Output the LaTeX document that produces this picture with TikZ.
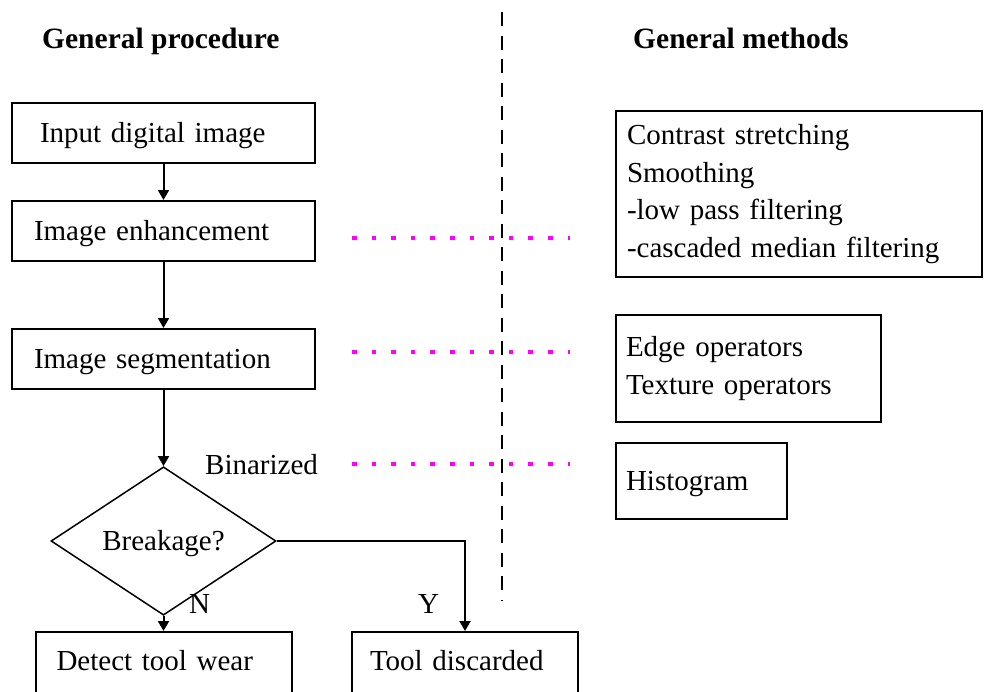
\documentclass[tikz,border=0pt]{standalone}
\usepackage{fontspec}
\setmainfont{Liberation Serif}
\usetikzlibrary{arrows.meta,shapes.geometric}
\definecolor{pinkdot}{RGB}{255,0,255}
\begin{document}
\begin{tikzpicture}[x=1pt,y=-1pt,
  every node/.style={font=\fontsize{29}{37.5}\selectfont},
  box/.style={draw=black, line width=2pt, rectangle, inner ysep=0pt, align=left},
  one/.style={text height=22pt, text depth=4pt},
  low/.style={text height=21pt, text depth=6pt},
  decision/.style={draw=black, line width=1.5pt, diamond, inner sep=0pt,
    minimum width=225pt, minimum height=111pt, text height=22pt, text depth=4pt},
  arr/.style={line width=2pt, -{Triangle[width=11pt,length=10pt]}},
  link/.style={draw=pinkdot, line width=3.2pt, dash pattern=on 4.5pt off 15.1pt},
  divider/.style={draw=black, line width=1.8pt, dash pattern=on 14pt off 9.5pt},
  ttl/.style={font=\bfseries\fontsize{29.5}{37.5}\selectfont, anchor=base west, inner sep=0pt},
  lbl/.style={anchor=base west, inner sep=0pt}]
\useasboundingbox (0,0) rectangle (984,691);
\fill[white] (0,0) rectangle (984,691);

% titles
\node[ttl] (t1) at (42,48) {General procedure};
\node[ttl] (t2) at (633,48) {General methods};

% divider
\coordinate (d1) at (502,12);
\coordinate (d2) at (502,600);
\draw[divider] (d1) -- (d2);

% left flow
\node[box, one, minimum width=303pt, minimum height=60pt, inner xsep=28pt, text width=247pt]
  (b1) at (163.5,133) {Input digital image};
\node[box, one, minimum width=303pt, minimum height=60pt, inner xsep=22pt, text width=259pt]
  (b2) at (163.5,231) {Image enhancement};
\node[box, one, minimum width=303pt, minimum height=60pt, inner xsep=22pt, text width=259pt]
  (b3) at (163.5,359) {Image segmentation};
\node[decision] (dia) at (163.5,541) {Breakage?};
\node[box, low, minimum width=256pt, minimum height=62pt, inner xsep=21pt, text width=214pt]
  (det) at (163.5,663) {Detect tool wear};
\node[box, low, minimum width=226pt, minimum height=62pt, inner xsep=18pt, text width=190pt]
  (tool) at (465,663) {Tool discarded};

\draw[arr] (b1) -- (b2);
\draw[arr] (b2) -- (b3);
\draw[arr] (b3) -- (dia);
\draw[arr] (dia.south) -- (det.north);
\draw[arr] (dia.east) -| (tool.north);

\node[lbl] (bin) at (205,474) {Binarized};
\node[lbl] (nlab) at (189,613) {N};
\node[lbl] (ylab) at (418,613) {Y};

% right methods
\node[box, minimum width=366pt, minimum height=166pt, inner xsep=11pt, text width=344pt]
  (ma) at (799,194) {Contrast stretching\\Smoothing\\-low pass filtering\\-cascaded median filtering};
\node[box, minimum width=265pt, minimum height=107pt, inner xsep=10pt, text width=245pt]
  (mb) at (748.5,368.5) {Edge operators\\Texture operators};
\node[box, one, minimum width=171pt, minimum height=76pt, inner xsep=10pt, text width=151pt]
  (mc) at (701.5,481) {Histogram};

% magenta dotted links
\coordinate (l1a) at (352,238); \coordinate (l1b) at (570,238);
\coordinate (l2a) at (352,352); \coordinate (l2b) at (570,352);
\coordinate (l3a) at (352,464); \coordinate (l3b) at (570,464);
\draw[link] (l1a) -- (l1b);
\draw[link] (l2a) -- (l2b);
\draw[link] (l3a) -- (l3b);
\end{tikzpicture}
\end{document}
